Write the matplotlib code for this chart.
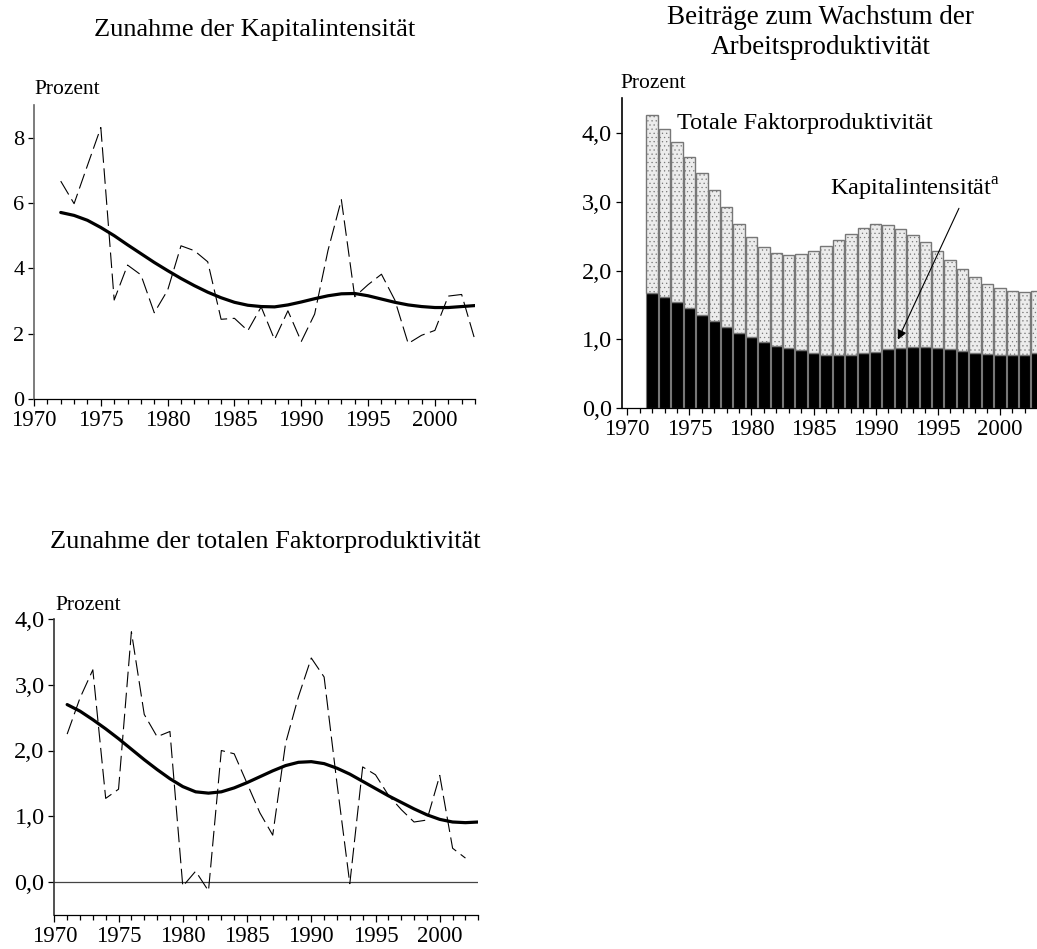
import matplotlib
matplotlib.use('Agg')
import matplotlib.pyplot as plt
from matplotlib.ticker import MultipleLocator, FuncFormatter

plt.rcParams['font.family'] = ['Liberation Serif', 'DejaVu Serif']
plt.rcParams['mathtext.fontset'] = 'custom'
plt.rcParams['mathtext.rm'] = 'Liberation Serif'
plt.rcParams['hatch.linewidth'] = 0.4

# ---- data ----
years_k = list(range(1972, 2004))
kap_actual = [6.67, 5.98, 7.15, 8.31, 3.03, 4.10, 3.80, 2.64, 3.33, 4.69, 4.54, 4.20,
              2.44, 2.47, 2.09, 2.82, 1.82, 2.70, 1.76, 2.60, 4.55, 6.10, 3.13, 3.50,
              3.82, 3.03, 1.70, 1.95, 2.10, 3.15, 3.20, 1.80]
kap_trend = [5.71, 5.62, 5.47, 5.25, 5.00, 4.72, 4.45, 4.18, 3.93, 3.69, 3.47, 3.27,
             3.10, 2.96, 2.87, 2.83, 2.82, 2.88, 2.97, 3.07, 3.16, 3.22, 3.23, 3.16,
             3.06, 2.96, 2.88, 2.83, 2.80, 2.80, 2.83, 2.86]

years_tfp = list(range(1971, 2003))
tfp_actual = [2.25, 2.80, 3.23, 1.27, 1.41, 3.81, 2.55, 2.21, 2.29, -0.07, 0.16, -0.14,
              2.00, 1.95, 1.50, 1.05, 0.71, 2.11, 2.82, 3.41, 3.12, 1.50, -0.03, 1.75,
              1.63, 1.32, 1.10, 0.91, 0.94, 1.62, 0.51, 0.36]
years_tfp_trend = list(range(1971, 2004))
tfp_trend = [2.70, 2.60, 2.47, 2.33, 2.18, 2.02, 1.86, 1.71, 1.57, 1.45, 1.37, 1.35,
             1.37, 1.43, 1.51, 1.60, 1.69, 1.77, 1.82, 1.83, 1.80, 1.73, 1.64, 1.53,
             1.42, 1.31, 1.21, 1.11, 1.02, 0.95, 0.91, 0.90, 0.91]

years_bar = list(range(1972, 2004))
bar_total = [4.26, 4.06, 3.86, 3.65, 3.41, 3.17, 2.92, 2.68, 2.48, 2.34, 2.25, 2.23,
             2.24, 2.28, 2.36, 2.44, 2.53, 2.62, 2.67, 2.66, 2.60, 2.52, 2.41, 2.28,
             2.15, 2.02, 1.90, 1.80, 1.74, 1.70, 1.69, 1.71]
bar_kap = [1.68, 1.62, 1.55, 1.46, 1.36, 1.27, 1.18, 1.09, 1.03, 0.96, 0.91, 0.88,
           0.84, 0.80, 0.78, 0.78, 0.78, 0.80, 0.82, 0.86, 0.87, 0.89, 0.89, 0.88,
           0.86, 0.83, 0.81, 0.79, 0.77, 0.77, 0.78, 0.80]

W, H = 1037, 949
fig = plt.figure(figsize=(W / 100, H / 100), dpi=100)

FS_XTICK = 16.5
FS_YTICK = 17.5
FS_PROZ = 15.5
FS_TITLE = 19
FS_ANNOT = 17.5


def axes_px(l, t, r, b):
    return fig.add_axes([l / W, 1 - b / H, (r - l) / W, (b - t) / H])


def style(ax, ycolor='#666666', ysize=FS_YTICK):
    for s in ['top', 'right']:
        ax.spines[s].set_visible(False)
    ax.spines['left'].set_color(ycolor)
    ax.spines['left'].set_linewidth(1.2)
    ax.spines['bottom'].set_color('black')
    ax.spines['bottom'].set_linewidth(0.9)
    ax.xaxis.set_major_locator(MultipleLocator(5))
    ax.xaxis.set_minor_locator(MultipleLocator(1))
    ax.tick_params(axis='x', which='major', direction='out', length=5, width=0.9,
                   pad=3, labelsize=FS_XTICK)
    ax.tick_params(axis='x', which='minor', direction='out', length=3.5, width=0.9)
    ax.tick_params(axis='y', which='major', direction='out', length=4.5, width=0.9,
                   pad=2.5, labelsize=ysize)


comma = FuncFormatter(lambda v, p: f"{v:.1f}".replace('.', ','))

# ---- top-left: Kapitalintensität ----
ax1 = axes_px(34, 105, 475, 399)
style(ax1, ysize=16)
ax1.plot(years_k, kap_actual, color='black', lw=0.8, dashes=(14, 5))
ax1.plot(years_k, kap_trend, color='black', lw=2.3, solid_capstyle='round')
ax1.set_xlim(1970, 2003)
ax1.set_ylim(0, 9)
ax1.yaxis.set_major_locator(MultipleLocator(2))
fig.text(255 / W, 1 - 30 / H, 'Zunahme der Kapitalintensität', ha='center', va='center',
         fontsize=FS_TITLE)
fig.text(34 / W, 1 - 89 / H, 'Prozent', ha='left', va='center', fontsize=FS_PROZ)

# ---- top-right: Beiträge ----
ax2 = axes_px(621.7, 98.3, 1037, 408.3)
style(ax2, ycolor='black')
diff = [t - k for t, k in zip(bar_total, bar_kap)]
ax2.bar(years_bar, bar_kap, width=0.92, color='black', edgecolor='#777777', linewidth=0.8)
ax2.bar(years_bar, diff, bottom=bar_kap, width=0.92, color='#ececec', edgecolor='#777777',
        linewidth=1.0, hatch='....')
ax2.set_xlim(1969.55, 2002.99)
ax2.set_ylim(0, 4.5)
ax2.yaxis.set_major_locator(MultipleLocator(1))
ax2.yaxis.set_major_formatter(comma)
ax2.text(1974.0, 4.14, 'Totale Faktorproduktivität', ha='left', va='center', fontsize=FS_ANNOT)
ax2.text(1986.3, 3.17, r'Kapitalintensität$^{\mathrm{a}}$', ha='left', va='center',
         fontsize=FS_ANNOT)
ax2.annotate('', xy=(1991.7, 0.96), xytext=(1996.8, 2.94),
             arrowprops=dict(arrowstyle='-|>', color='black', lw=0.8, mutation_scale=14))
fig.text(820 / W, 1 - 17 / H, 'Beiträge zum Wachstum der', ha='center', va='center',
         fontsize=19.5)
fig.text(821 / W, 1 - 48 / H, 'Arbeitsproduktivität', ha='center', va='center',
         fontsize=19.5)
fig.text(620 / W, 1 - 83 / H, 'Prozent', ha='left', va='center', fontsize=FS_PROZ)

# ---- bottom-left: TFP ----
ax3 = axes_px(54.3, 619.3, 478.3, 914.5)
style(ax3, ycolor='#333333')
ax3.axhline(0, color='#444444', lw=0.9)
ax3.plot(years_tfp, tfp_actual, color='black', lw=0.8, dashes=(14, 5))
ax3.plot(years_tfp_trend, tfp_trend, color='black', lw=2.3, solid_capstyle='round')
ax3.set_xlim(1970, 2003)
ax3.set_ylim(-0.5, 4.0)
ax3.set_yticks([0, 1, 2, 3, 4])
ax3.yaxis.set_major_formatter(comma)
fig.text(265 / W, 1 - 542 / H, 'Zunahme der totalen Faktorproduktivität', ha='center',
         va='center', fontsize=FS_TITLE)
fig.text(55 / W, 1 - 605 / H, 'Prozent', ha='left', va='center', fontsize=FS_PROZ)

fig.savefig('out.png', dpi=100)
